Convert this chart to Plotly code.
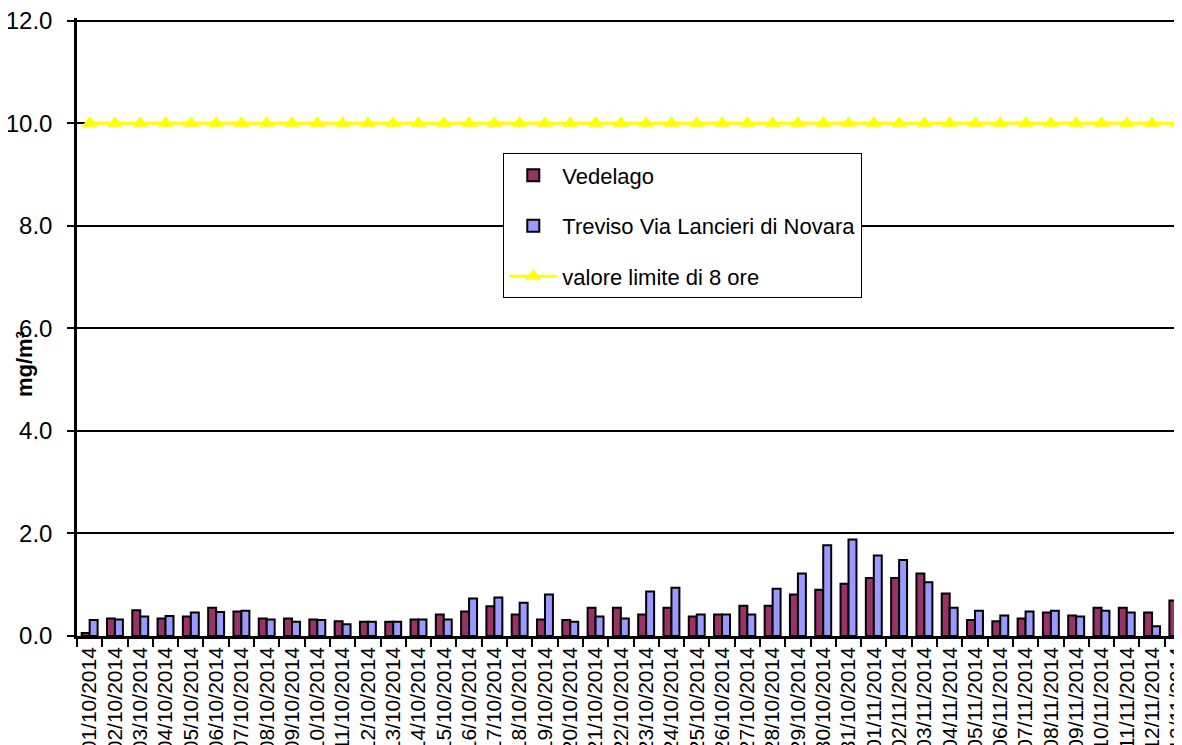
import plotly.graph_objects as go

dates = [f"{d:02d}/10/2014" for d in range(1, 32)] + [f"{d:02d}/11/2014" for d in range(1, 14)]

vedelago = [0.06, 0.34, 0.50, 0.34, 0.38, 0.55, 0.48, 0.34, 0.34, 0.32,
            0.29, 0.28, 0.28, 0.32, 0.42, 0.48, 0.58, 0.42, 0.32, 0.31,
            0.55, 0.55, 0.42, 0.55, 0.38, 0.42, 0.59, 0.59, 0.81, 0.90,
            1.02, 1.13, 1.13, 1.22, 0.83, 0.31, 0.29, 0.34, 0.46, 0.40,
            0.55, 0.55, 0.46, 0.69]
treviso = [0.31, 0.32, 0.38, 0.39, 0.46, 0.47, 0.49, 0.32, 0.28, 0.31,
           0.23, 0.28, 0.28, 0.32, 0.32, 0.73, 0.75, 0.65, 0.81, 0.28,
           0.38, 0.34, 0.87, 0.94, 0.42, 0.42, 0.42, 0.92, 1.22, 1.77,
           1.88, 1.57, 1.48, 1.05, 0.55, 0.49, 0.40, 0.48, 0.49, 0.38,
           0.49, 0.46, 0.19, 0.94]
limit = [10.0] * len(dates)

FONT = "Liberation Sans, Arial, sans-serif"

fig = go.Figure()
fig.add_trace(go.Bar(x=dates, y=vedelago, name="Vedelago", legendgroup="a",
                     marker=dict(color="#993366", line=dict(color="black", width=2))))
fig.add_trace(go.Bar(x=dates, y=treviso, name="Treviso Via Lancieri di Novara", legendgroup="b",
                     marker=dict(color="#9999FF", line=dict(color="black", width=2))))
fig.add_trace(go.Scatter(x=dates, y=limit, name="valore limite di 8 ore", legendgroup="c",
                         mode="lines+markers",
                         line=dict(color="#FFFF00", width=3),
                         marker=dict(symbol="triangle-up", size=14, color="#FFFF00")))

# page body has an 8px margin: compensate so the plot area sits where the reference has it
fig.update_layout(
    width=1182, height=745,
    margin=dict(l=69, r=0, t=10, b=117),
    paper_bgcolor="white", plot_bgcolor="white",
    barmode="group", bargap=0.37, bargroupgap=0,
    font=dict(family=FONT, color="black"),
    legend=dict(x=0.383, y=0.781, xanchor="left", yanchor="top",
                bgcolor="white", bordercolor="black", borderwidth=1,
                font=dict(size=22, family=FONT, color="black"),
                tracegroupgap=19, itemwidth=48),
    annotations=[dict(text="<b>mg/m³</b>", xref="paper", yref="paper",
                      x=-0.0476, y=0.44, xanchor="center", yanchor="middle",
                      textangle=-90, showarrow=False,
                      font=dict(size=22, family=FONT, color="black"))],
    showlegend=True,
)
fig.update_xaxes(type="category", range=[-0.5, 43.5], showline=True, linecolor="black",
                 linewidth=2.5, ticks="outside", tickson="boundaries", ticklen=8,
                 tickwidth=2, tickcolor="black", tickangle=-90, automargin=False,
                 tickfont=dict(size=21, family=FONT, color="black"), showgrid=False)
fig.update_yaxes(range=[0, 12.05], tickvals=[0, 2, 4, 6, 8, 10, 12], tickformat=".1f",
                 showline=True, linecolor="black", linewidth=2.5, ticks="outside",
                 ticklen=7, tickwidth=2, tickcolor="black", showgrid=True,
                 gridcolor="black", gridwidth=2, zeroline=False, automargin=False,
                 ticklabelstandoff=10, ticklabeloverflow="allow",
                 tickfont=dict(size=24, family=FONT, color="black"))

fig.write_html("out.html")
